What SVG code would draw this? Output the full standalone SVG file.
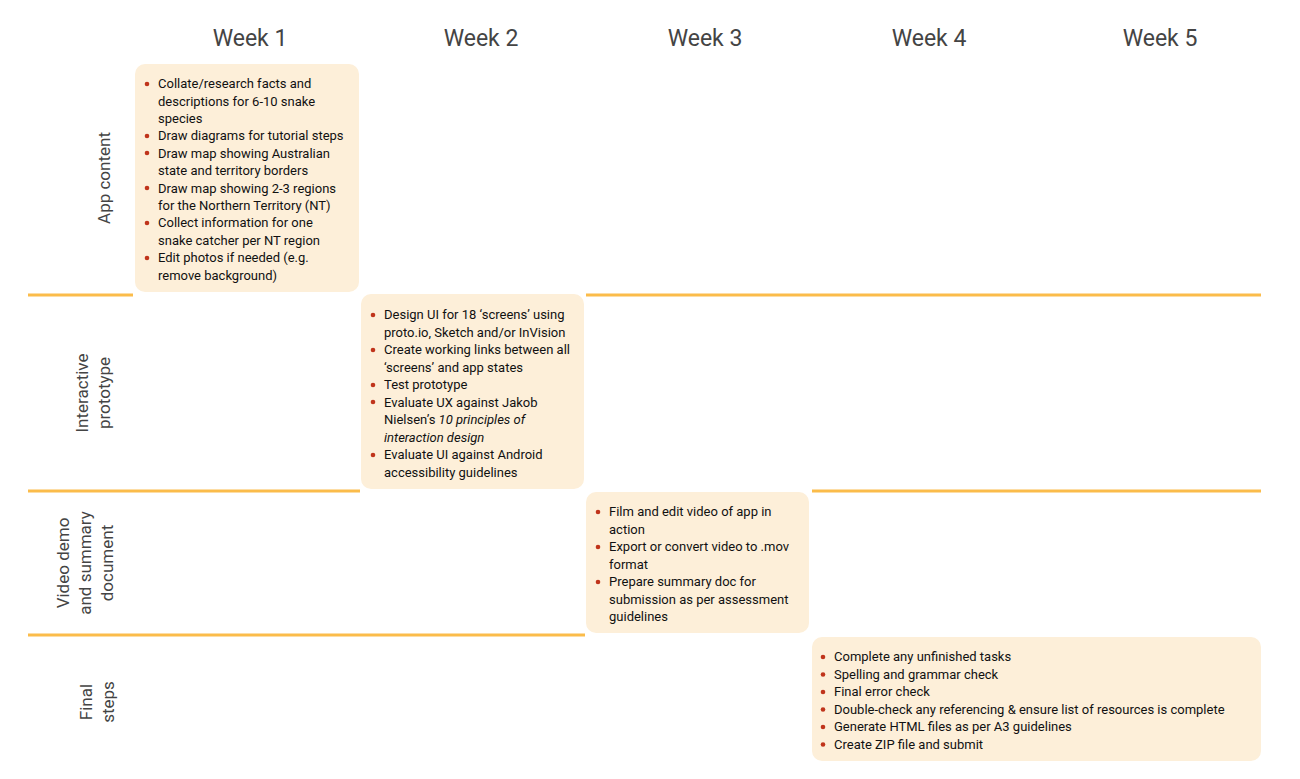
<svg xmlns="http://www.w3.org/2000/svg" width="1300" height="779" viewBox="0 0 1300 779">
<style>
.h{font-family:Roboto,"Liberation Sans",sans-serif;font-size:23px;fill:#444;text-anchor:middle}
.r{font-family:Roboto,"Liberation Sans",sans-serif;font-size:17px;fill:#444;text-anchor:middle}
.t{font-family:Roboto,"Liberation Sans",sans-serif;font-size:13px;fill:#111}
.box{fill:#fdefd9}
.ln{stroke:#fbbc4a;stroke-width:3}
.b{fill:#c0341b}
</style>
<rect width="1300" height="779" fill="#fff"/>
<g id="headers">
<text class="h" x="250" y="46">Week 1</text><text class="h" x="481" y="46">Week 2</text><text class="h" x="705" y="46">Week 3</text><text class="h" x="929" y="46">Week 4</text><text class="h" x="1160" y="46">Week 5</text>
</g>
<g id="rowlabels">
<text class="r" transform="translate(110,178) rotate(-90)">App content</text>
<text class="r" transform="translate(88,393) rotate(-90)"><tspan x="0" y="0">Interactive</tspan><tspan x="0" y="22">prototype</tspan></text>
<text class="r" transform="translate(69,563) rotate(-90)"><tspan x="0" y="0">Video demo</tspan><tspan x="0" y="22">and summary</tspan><tspan x="0" y="44">document</tspan></text>
<text class="r" transform="translate(92,702) rotate(-90)"><tspan x="0" y="0">Final</tspan><tspan x="0" y="22">steps</tspan></text>
</g>
<g id="connectors">
<line class="ln" x1="28" y1="295" x2="133" y2="295"/><line class="ln" x1="586" y1="295" x2="1261" y2="295"/>
<line class="ln" x1="28" y1="491" x2="360" y2="491"/><line class="ln" x1="812" y1="491" x2="1261" y2="491"/>
<line class="ln" x1="28" y1="635" x2="585" y2="635"/>
</g>
<g id="box1">
<rect class="box" x="135" y="64" width="224" height="228" rx="10"/>
<circle class="b" cx="147" cy="84" r="2.3"/><circle class="b" cx="147" cy="136" r="2.3"/><circle class="b" cx="147" cy="153" r="2.3"/><circle class="b" cx="147" cy="188" r="2.3"/><circle class="b" cx="147" cy="223" r="2.3"/><circle class="b" cx="147" cy="258" r="2.3"/>
<text class="t" x="158"><tspan x="158" y="88">Collate/research facts and</tspan><tspan x="158" y="105.5">descriptions for 6-10 snake</tspan><tspan x="158" y="123">species</tspan><tspan x="158" y="140">Draw diagrams for tutorial steps</tspan><tspan x="158" y="157.5">Draw map showing Australian</tspan><tspan x="158" y="175">state and territory borders</tspan><tspan x="158" y="192.5">Draw map showing 2-3 regions</tspan><tspan x="158" y="210">for the Northern Territory (NT)</tspan><tspan x="158" y="227">Collect information for one</tspan><tspan x="158" y="244.5">snake catcher per NT region</tspan><tspan x="158" y="262">Edit photos if needed (e.g.</tspan><tspan x="158" y="279.5">remove background)</tspan></text>
</g>
<g id="box2">
<rect class="box" x="361" y="294" width="223" height="195" rx="10"/>
<circle class="b" cx="373" cy="315" r="2.3"/><circle class="b" cx="373" cy="350" r="2.3"/><circle class="b" cx="373" cy="385" r="2.3"/><circle class="b" cx="373" cy="402" r="2.3"/><circle class="b" cx="373" cy="455" r="2.3"/>
<text class="t"><tspan x="384" y="319">Design UI for 18 ‘screens’ using</tspan><tspan x="384" y="336.5">proto.io, Sketch and/or InVision</tspan><tspan x="384" y="354">Create working links between all</tspan><tspan x="384" y="371.5">‘screens’ and app states</tspan><tspan x="384" y="389">Test prototype</tspan><tspan x="384" y="406.5">Evaluate UX against Jakob</tspan><tspan x="384" y="424">Nielsen’s <tspan font-style="italic">10 principles of</tspan></tspan><tspan x="384" y="441.5" font-style="italic">interaction design</tspan><tspan x="384" y="459">Evaluate UI against Android</tspan><tspan x="384" y="476.5">accessibility guidelines</tspan></text>
</g>
<g id="box3">
<rect class="box" x="586" y="492" width="223" height="141" rx="10"/>
<circle class="b" cx="598" cy="512" r="2.3"/><circle class="b" cx="598" cy="547" r="2.3"/><circle class="b" cx="598" cy="582" r="2.3"/>
<text class="t"><tspan x="609" y="516">Film and edit video of app in</tspan><tspan x="609" y="533.5">action</tspan><tspan x="609" y="551">Export or convert video to .mov</tspan><tspan x="609" y="568.5">format</tspan><tspan x="609" y="586">Prepare summary doc for</tspan><tspan x="609" y="603.5">submission as per assessment</tspan><tspan x="609" y="621">guidelines</tspan></text>
</g>
<g id="box4">
<rect class="box" x="812" y="637" width="449" height="124" rx="10"/>
<circle class="b" cx="823" cy="657" r="2.3"/><circle class="b" cx="823" cy="674.5" r="2.3"/><circle class="b" cx="823" cy="692" r="2.3"/><circle class="b" cx="823" cy="709.5" r="2.3"/><circle class="b" cx="823" cy="727" r="2.3"/><circle class="b" cx="823" cy="744.5" r="2.3"/>
<text class="t"><tspan x="834" y="661">Complete any unfinished tasks</tspan><tspan x="834" y="678.5">Spelling and grammar check</tspan><tspan x="834" y="696">Final error check</tspan><tspan x="834" y="713.5">Double-check any referencing &amp; ensure list of resources is complete</tspan><tspan x="834" y="731">Generate HTML files as per A3 guidelines</tspan><tspan x="834" y="748.5">Create ZIP file and submit</tspan></text>
</g>
</svg>
